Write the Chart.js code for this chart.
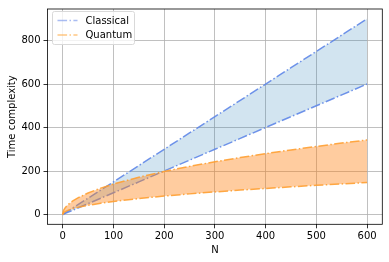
<!DOCTYPE html>
<html>
<head>
<meta charset="utf-8">
<script src="https://cdn.jsdelivr.net/npm/chart.js@4"></script>
<style>
  html, body { margin: 0; padding: 0; background: #fff; }
  #wrap { width: 389px; height: 262px; }
</style>
</head>
<body>
<div id="wrap"><canvas id="chart" width="389" height="262"></canvas></div>
<script>
// values
const nValues = [0, 1, 2, 5, 10, 20, 30, 50, 75, 100, 150, 200, 250, 300, 350, 400, 450, 500, 550, 600];
const classicalLow = [0, 1, 2, 5, 10, 20, 30, 50, 75, 100, 150, 200, 250, 300, 350, 400, 450, 500, 550, 600];
const classicalHigh = [0, 1.5, 3, 7.5, 15, 30, 45, 75, 112.5, 150, 225, 300, 375, 450, 525, 600, 675, 750, 825, 900];
const quantumLow = [0, 6, 8.5, 13.4, 19, 26.8, 32.9, 42.4, 52, 60, 73.5, 84.9, 94.9, 103.9, 112.2, 120, 127.3, 134.2, 140.7, 147];
const quantumHigh = [0, 14, 19.8, 31.3, 44.3, 62.6, 76.7, 99, 121.2, 140, 171.5, 198, 221.4, 242.5, 261.9, 280, 297, 313, 328.3, 342.9];
const xTicks = [0, 100, 200, 300, 400, 500, 600];
const yTicks = [0, 200, 400, 600, 800];

const FONT = 'DejaVu Sans';
const dashDot = [9.6, 2.4, 1.5, 2.4];
const toPoints = (ys) => nValues.map((n, i) => ({ x: n, y: ys[i] }));

function series(data, color, fill, fillColor) {
    return {
        data: toPoints(data),
        borderColor: color,
        borderWidth: 1.5,
        borderDash: dashDot,
        pointRadius: 0,
        tension: 0,
        fill: fill,
        backgroundColor: fillColor
    };
}

// frame + legend drawn like matplotlib
const frameAndLegend = {
    id: 'frameAndLegend',
    afterDraw(chart) {
        const { ctx, chartArea: a } = chart;
        ctx.save();
        ctx.strokeStyle = '#000';
        ctx.lineWidth = 0.8;
        ctx.strokeRect(a.left, a.top, a.right - a.left, a.bottom - a.top);

        // legend box
        const bx = 52.5, by = 11.5, bw = 82, bh = 33;
        ctx.fillStyle = 'rgba(255,255,255,0.8)';
        ctx.strokeStyle = '#d9d9d9';
        ctx.lineWidth = 1;
        ctx.beginPath();
        ctx.roundRect(bx, by, bw, bh, 2);
        ctx.fill();
        ctx.stroke();

        const items = [
            { label: 'Classical', color: 'rgba(140,165,238,0.75)' },
            { label: 'Quantum', color: 'rgba(255,180,90,0.75)' }
        ];
        ctx.font = '10px "' + FONT + '"';
        ctx.textBaseline = 'middle';
        items.forEach((it, i) => {
            const y = by + 9 + i * 14.5;
            ctx.strokeStyle = it.color;
            ctx.lineWidth = 1.5;
            ctx.setLineDash(dashDot);
            ctx.beginPath();
            ctx.moveTo(bx + 5, y);
            ctx.lineTo(bx + 25, y);
            ctx.stroke();
            ctx.setLineDash([]);
            ctx.fillStyle = '#000';
            ctx.fillText(it.label, bx + 33, y + 0.5);
        });
        ctx.restore();
    }
};

new Chart(document.getElementById('chart'), {
    type: 'line',
    data: {
        datasets: [
            series(quantumLow, 'rgba(255,160,50,0.9)', false, 'transparent'),
            series(quantumHigh, 'rgba(255,160,50,0.9)', '-1', 'rgba(255,127,14,0.4)'),
            series(classicalLow, 'rgba(95,135,232,0.9)', false, 'transparent'),
            series(classicalHigh, 'rgba(95,135,232,0.9)', '-1', 'rgba(31,119,180,0.2)')
        ]
    },
    options: {
        responsive: false,
        animation: false,
        layout: { padding: { top: 6, right: 6.7, left: 0, bottom: 0 } },
        plugins: { legend: { display: false }, tooltip: { enabled: false } },
        scales: {
            x: {
                type: 'linear',
                min: -30,
                max: 630,
                afterBuildTicks: (s) => { s.ticks = xTicks.map(v => ({ value: v })); },
                afterFit: (s) => { s.height = 37.7; },
                grid: { color: '#b0b0b0', lineWidth: 0.8, tickLength: 4, tickColor: '#000' },
                border: { display: false },
                ticks: { color: '#000', padding: 2, font: { family: FONT, size: 10 }, maxRotation: 0 },
                title: { display: true, text: 'N', color: '#000', padding: { top: 0, bottom: 6 }, font: { family: FONT, size: 10 } }
            },
            y: {
                min: -45,
                max: 945,
                afterBuildTicks: (s) => { s.ticks = yTicks.map(v => ({ value: v })); },
                afterFit: (s) => { s.width = 47.5; },
                grid: { color: '#b0b0b0', lineWidth: 0.8, tickLength: 4, tickColor: '#000' },
                border: { display: false },
                ticks: { color: '#000', padding: 3, font: { family: FONT, size: 10 } },
                title: { display: true, text: 'Time complexity', color: '#000', padding: { top: 6, bottom: 0 }, font: { family: FONT, size: 10 } }
            }
        }
    },
    plugins: [frameAndLegend]
});
</script>
</body>
</html>
